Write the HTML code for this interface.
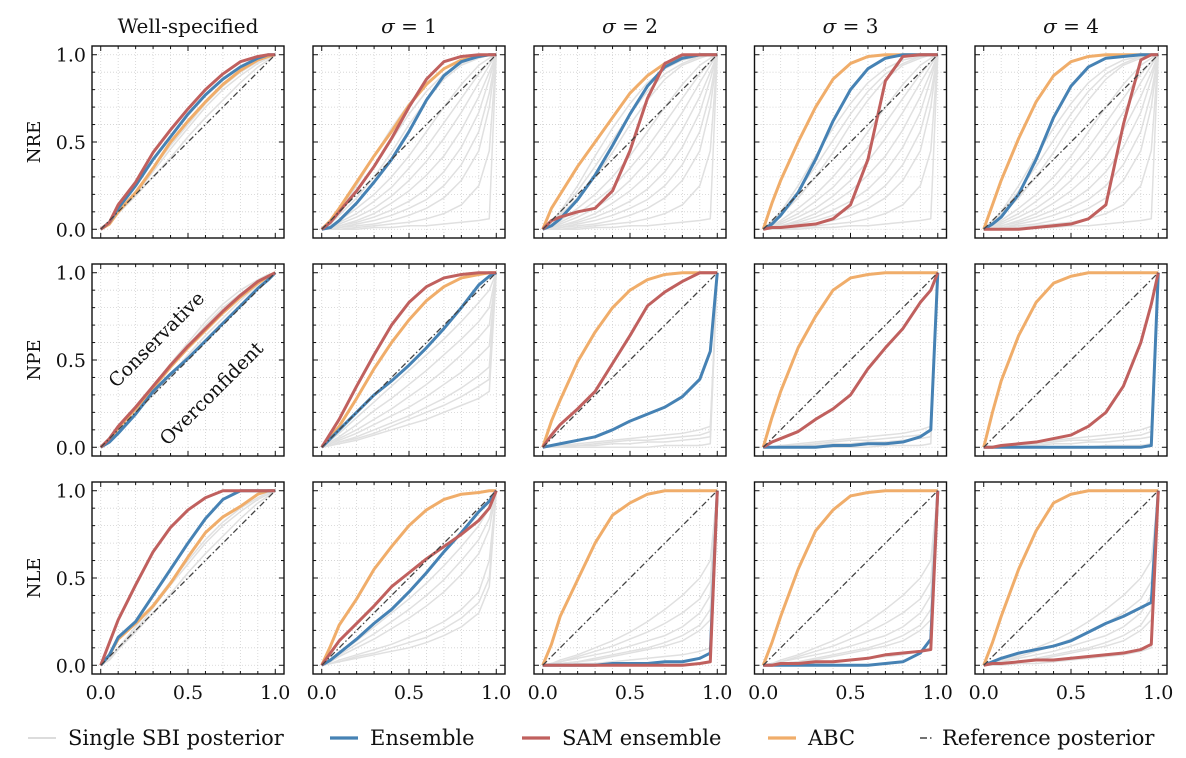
<!DOCTYPE html>
<html><head><meta charset="utf-8"><style>
html,body{margin:0;padding:0;background:#fff;}
svg{display:block;font-family:"DejaVu Serif","Liberation Serif",serif;}
</style></head><body>
<svg id="fig" width="1186" height="758" viewBox="0 0 1186 758" xmlns="http://www.w3.org/2000/svg"></svg>
<script>
const xGrid=[0,0.05,0.1,0.2,0.3,0.4,0.5,0.6,0.7,0.8,0.9,0.96,1];
const rowLabels=["NRE","NPE","NLE"];
const colTitles=["Well-specified","σ = 1","σ = 2","σ = 3","σ = 4"];
const tickLabels=["0.0","0.5","1.0"];
const tickValues=[0,0.5,1];
const ensData=[
[[0,0.04,0.12,0.25,0.4,0.53,0.66,0.77,0.86,0.93,0.98,1,1],
 [0,0.01,0.05,0.15,0.27,0.4,0.56,0.74,0.88,0.96,0.99,1,1],
 [0,0.02,0.06,0.17,0.31,0.48,0.66,0.82,0.93,0.98,1,1,1],
 [0,0.03,0.08,0.21,0.4,0.62,0.8,0.92,0.98,1,1,1,1],
 [0,0.03,0.07,0.2,0.4,0.64,0.82,0.93,0.98,0.99,1,1,1]],
[[0,0.03,0.08,0.19,0.32,0.42,0.51,0.61,0.71,0.81,0.91,0.96,1],
 [0,0.05,0.1,0.2,0.3,0.38,0.47,0.57,0.68,0.8,0.93,0.98,1],
 [0,0.01,0.02,0.04,0.06,0.1,0.15,0.19,0.23,0.29,0.39,0.55,1],
 [0,0,0,0,0,0.01,0.01,0.02,0.02,0.03,0.06,0.1,1],
 [0,0,0,0,0,0,0,0,0,0,0,0.01,1]],
[[0,0.06,0.16,0.25,0.4,0.55,0.7,0.84,0.95,1,1,1,1],
 [0,0.03,0.07,0.15,0.24,0.32,0.42,0.53,0.65,0.76,0.88,0.94,1],
 [0,0,0,0,0,0.01,0.01,0.01,0.02,0.02,0.04,0.07,1],
 [0,0,0,0,0,0,0,0,0.01,0.02,0.07,0.15,1],
 [0,0.02,0.04,0.07,0.09,0.11,0.14,0.19,0.24,0.28,0.33,0.36,1]]
];
const samData=[
[[0,0.04,0.14,0.27,0.44,0.57,0.69,0.8,0.89,0.96,0.99,1,1],
 [0,0.04,0.1,0.22,0.36,0.52,0.7,0.86,0.96,0.99,1,1,1],
 [0,0.05,0.07,0.1,0.12,0.22,0.45,0.75,0.95,1,1,1,1],
 [0,0.01,0.01,0.02,0.03,0.06,0.14,0.4,0.85,0.99,1,1,1],
 [0,0,0,0,0.01,0.02,0.03,0.06,0.14,0.6,0.97,1,1]],
[[0,0.05,0.12,0.23,0.35,0.47,0.58,0.68,0.78,0.87,0.95,0.98,1],
 [0,0.08,0.16,0.35,0.53,0.7,0.83,0.92,0.97,0.99,1,1,1],
 [0,0.07,0.13,0.22,0.32,0.48,0.64,0.81,0.89,0.95,1,1,1],
 [0,0.03,0.05,0.09,0.16,0.22,0.3,0.45,0.57,0.68,0.83,0.9,1],
 [0,0,0.01,0.02,0.03,0.05,0.07,0.12,0.2,0.35,0.6,0.82,1]],
[[0,0.13,0.26,0.46,0.65,0.79,0.89,0.96,1,1,1,1,1],
 [0,0.07,0.14,0.24,0.34,0.45,0.53,0.61,0.68,0.75,0.83,0.9,1],
 [0,0,0,0,0,0,0,0,0,0,0.01,0.02,1],
 [0,0,0.01,0.01,0.02,0.02,0.03,0.04,0.06,0.07,0.08,0.09,1],
 [0,0.01,0.01,0.02,0.03,0.03,0.04,0.05,0.06,0.07,0.09,0.12,1]]
];
const abcData=[
[[0,0.03,0.1,0.21,0.35,0.5,0.62,0.73,0.83,0.91,0.97,0.99,1],
 [0,0.05,0.12,0.27,0.42,0.56,0.71,0.83,0.92,0.97,0.99,1,1],
 [0,0.12,0.2,0.36,0.5,0.64,0.78,0.88,0.95,0.98,1,1,1],
 [0,0.15,0.28,0.5,0.7,0.86,0.95,0.99,1,1,1,1,1],
 [0,0.14,0.28,0.52,0.73,0.88,0.96,0.99,1,1,1,1,1]],
[[0,0.04,0.11,0.22,0.34,0.46,0.57,0.67,0.77,0.86,0.94,0.98,1],
 [0,0.06,0.12,0.28,0.45,0.6,0.73,0.84,0.92,0.97,0.99,1,1],
 [0,0.15,0.27,0.49,0.66,0.8,0.9,0.96,0.99,1,1,1,1],
 [0,0.17,0.32,0.57,0.75,0.9,0.97,0.99,1,1,1,1,1],
 [0,0.2,0.38,0.64,0.83,0.94,0.98,1,1,1,1,1,1]],
[[0,0.06,0.15,0.24,0.34,0.47,0.62,0.76,0.85,0.91,0.98,1,1],
 [0,0.11,0.23,0.38,0.55,0.68,0.8,0.89,0.95,0.98,0.99,1,1],
 [0,0.12,0.28,0.49,0.7,0.86,0.93,0.98,1,1,1,1,1],
 [0,0.13,0.28,0.55,0.77,0.89,0.97,0.99,1,1,1,1,1],
 [0,0.13,0.28,0.55,0.77,0.93,0.98,1,1,1,1,1,1]]
];
const greyWell=[[0,0.03,0.09,0.2,0.33,0.46,0.58,0.7,0.8,0.88,0.95,0.98,1],[0,0.03,0.09,0.19,0.3,0.41,0.53,0.64,0.74,0.84,0.93,0.97,1],[0,0.04,0.1,0.22,0.35,0.48,0.6,0.72,0.82,0.9,0.96,0.99,1]];
const greyNRE=[[0,0.05,0.1,0.25,0.42,0.58,0.72,0.84,0.92,0.97,0.99,1,1],[0,0.04,0.09,0.22,0.36,0.51,0.66,0.79,0.89,0.95,0.99,1,1],[0,0.03,0.08,0.18,0.3,0.44,0.6,0.74,0.86,0.94,0.98,1,1],[0,0.02,0.05,0.12,0.2,0.3,0.42,0.56,0.7,0.83,0.94,0.98,1],[0,0.01,0.04,0.09,0.16,0.24,0.35,0.47,0.61,0.75,0.89,0.96,1],[0,0.01,0.03,0.07,0.12,0.19,0.28,0.39,0.52,0.67,0.84,0.94,1],[0,0.01,0.02,0.05,0.09,0.15,0.22,0.31,0.42,0.57,0.76,0.9,1],[0,0.01,0.02,0.04,0.07,0.11,0.16,0.23,0.33,0.47,0.67,0.86,1],[0,0,0.01,0.03,0.05,0.08,0.12,0.17,0.25,0.37,0.56,0.78,1],[0,0,0.01,0.02,0.03,0.05,0.08,0.12,0.18,0.28,0.45,0.7,1],[0,0,0,0.01,0.02,0.03,0.04,0.06,0.09,0.14,0.25,0.45,1],[0,0,0,0,0.01,0.01,0.02,0.02,0.03,0.04,0.05,0.06,1]];
const greyNPE1=[[0,0.04,0.08,0.17,0.26,0.35,0.44,0.53,0.62,0.72,0.83,0.9,1],[0,0.03,0.06,0.13,0.21,0.28,0.36,0.44,0.53,0.62,0.72,0.8,1],[0,0.02,0.05,0.1,0.16,0.22,0.29,0.36,0.44,0.53,0.63,0.7,1],[0,0.02,0.04,0.08,0.13,0.18,0.23,0.29,0.36,0.43,0.52,0.58,1],[0,0.01,0.03,0.06,0.1,0.14,0.18,0.23,0.28,0.34,0.41,0.46,1],[0,0.01,0.03,0.05,0.08,0.12,0.16,0.2,0.24,0.29,0.35,0.39,1],[0,0.01,0.02,0.04,0.07,0.1,0.13,0.16,0.2,0.24,0.28,0.32,1]];
const greyNPEhi=[[0,0,0.01,0.02,0.03,0.04,0.05,0.06,0.07,0.08,0.1,0.12,1],[0,0,0.01,0.01,0.02,0.03,0.04,0.04,0.05,0.06,0.07,0.09,1],[0,0,0,0.01,0.01,0.02,0.02,0.03,0.03,0.04,0.05,0.06,1],[0,0,0,0,0,0,0,0,0.01,0.01,0.01,0.02,1]];
const greyNLE1=[[0,0.03,0.07,0.14,0.22,0.3,0.38,0.47,0.57,0.68,0.8,0.9,1],[0,0.02,0.06,0.12,0.18,0.25,0.32,0.4,0.49,0.6,0.72,0.84,1],[0,0.02,0.05,0.1,0.15,0.21,0.27,0.34,0.42,0.52,0.64,0.78,1],[0,0.01,0.03,0.06,0.09,0.12,0.16,0.2,0.25,0.32,0.42,0.6,1],[0,0.01,0.02,0.05,0.07,0.1,0.13,0.16,0.21,0.27,0.36,0.5,1],[0,0.01,0.02,0.04,0.06,0.08,0.1,0.13,0.17,0.22,0.3,0.45,1]];
const greyNLEhi=[[0,0.01,0.03,0.06,0.1,0.14,0.19,0.25,0.32,0.4,0.5,0.6,1],[0,0.01,0.02,0.05,0.08,0.11,0.15,0.19,0.24,0.3,0.38,0.48,1],[0,0.01,0.02,0.04,0.06,0.08,0.11,0.14,0.17,0.22,0.3,0.4,1],[0,0,0.01,0.02,0.04,0.06,0.08,0.1,0.13,0.17,0.23,0.32,1],[0,0.01,0.01,0.02,0.03,0.05,0.07,0.09,0.11,0.14,0.2,0.26,1],[0,0,0,0.01,0.01,0.02,0.03,0.04,0.05,0.06,0.08,0.1,1]];
const greyData=[
[greyWell,greyNRE,greyNRE,greyNRE,greyNRE],
[greyWell,greyNPE1,greyNPEhi,greyNPEhi,greyNPEhi],
[greyWell,greyNLE1,greyNLEhi,greyNLEhi,greyNLEhi]
];

const NS="http://www.w3.org/2000/svg";
const svg=document.getElementById('fig');
function mk(tag,attrs,parent){const e=document.createElementNS(NS,tag);for(const k in attrs)e.setAttribute(k,attrs[k]);(parent||svg).appendChild(e);return e;}
const colX=[92,313,534,754.5,975];
const rowY=[46,264,482];
const W=192,H=192;
const COLORS={ens:"#4682b4",sam:"#c0605e",abc:"#f0ad6a",grey:"#e0e0e0",ref:"#444"};

for(let r=0;r<3;r++){
  for(let c=0;c<5;c++){
    const x0=colX[c],y0=rowY[r];
    const sx=v=>x0+(v+0.05)/1.1*W;
    const sy=v=>y0+H-(v+0.05)/1.1*H;
    const g=mk('g',{});
    
    
    for(let i=0;i<=10;i++){
      const v=i/10;
      mk('line',{x1:sx(v),x2:sx(v),y1:y0,y2:y0+H,stroke:'#d0d0d0','stroke-width':0.8,'stroke-dasharray':'1 2'},g);
      mk('line',{y1:sy(v),y2:sy(v),x1:x0,x2:x0+W,stroke:'#d0d0d0','stroke-width':0.8,'stroke-dasharray':'1 2'},g);
    }
    const line=(ys,color,w,name)=>{
      const p=mk('polyline',{points:xGrid.map((x,i)=>sx(x)+','+sy(ys[i])).join(' '),fill:'none',stroke:color,'stroke-width':w,'stroke-linejoin':'round'},g);
      
      
    };
    greyData[r][c].forEach(ys=>line(ys,COLORS.grey,1.5,'single-sbi-curve'));
    line(abcData[r][c],COLORS.abc,3,'abc-curve');
    line(ensData[r][c],COLORS.ens,3,'ensemble-curve');
    line(samData[r][c],COLORS.sam,3,'sam-ensemble-curve');
    const ref=mk('line',{x1:sx(0),y1:sy(0),x2:sx(1),y2:sy(1),stroke:COLORS.ref,'stroke-width':1.3,'stroke-dasharray':'6 2.5 1.5 2.5'},g);
    
    
    mk('rect',{x:x0,y:y0,width:W,height:H,fill:'none',stroke:'#111','stroke-width':1.4},g);
    for(let i=0;i<=10;i++){
      const v=i/10,L=(i%5===0)?5:3;
      mk('line',{x1:sx(v),x2:sx(v),y1:y0+H,y2:y0+H-L,stroke:'#111','stroke-width':1},g);
      mk('line',{x1:sx(v),x2:sx(v),y1:y0,y2:y0+L,stroke:'#111','stroke-width':1},g);
      mk('line',{y1:sy(v),y2:sy(v),x1:x0,x2:x0+L,stroke:'#111','stroke-width':1},g);
      mk('line',{y1:sy(v),y2:sy(v),x1:x0+W,x2:x0+W-L,stroke:'#111','stroke-width':1},g);
    }
    if(c===0){
      tickValues.forEach((v,i)=>{
        const t=mk('text',{x:x0-6,y:sy(v)+7,'text-anchor':'end','font-size':19,fill:'#111'},g);
        t.textContent=tickLabels[i];
        
        
      });
      const rl=mk('text',{x:40,y:y0+H/2,'text-anchor':'middle','font-size':18,fill:'#111',transform:`rotate(-90 40 ${y0+H/2})`},g);
      rl.textContent=rowLabels[r];
      
      
    }
    if(r===2){
      tickValues.forEach((v,i)=>{
        const t=mk('text',{x:sx(v),y:y0+H+25,'text-anchor':'middle','font-size':19,fill:'#111'},g);
        t.textContent=tickLabels[i];
        
        
      });
    }
    if(r===0){
      const t=mk('text',{x:x0+W/2,y:33,'text-anchor':'middle','font-size':c===0?20:20,fill:'#111'},g);
      if(c===0){t.textContent=colTitles[c];}
      else{
        const s=mk('tspan',{'font-style':'italic'},t);s.textContent='σ';
        const n=mk('tspan',{},t);n.textContent=colTitles[c].slice(1);
      }
      
      
    }
    if(r===1&&c===0){
      const a=mk('text',{x:161,y:344,'text-anchor':'middle','font-size':19,fill:'#111',transform:'rotate(-45 161 344)'},g);
      a.textContent='Conservative';
      
      
      const b=mk('text',{x:216,y:398,'text-anchor':'middle','font-size':19,fill:'#111',transform:'rotate(-45 216 398)'},g);
      b.textContent='Overconfident';
      
      
    }
  }
}
const legendLabels=["Single SBI posterior","Ensemble","SAM ensemble","ABC","Reference posterior"];
const legendColors=[COLORS.grey,COLORS.ens,COLORS.sam,COLORS.abc,COLORS.ref];
const legendX=[28,330,522,768,920];
const lg=mk('g',{});


legendLabels.forEach((lab,i)=>{
  const e=mk('g',{},lg);
  
  
  const isRef=i===4;
  mk('line',{x1:legendX[i],x2:legendX[i]+(isRef?14:28),y1:738,y2:738,stroke:i===0?'#d0d0d0':legendColors[i],'stroke-width':(i===0||isRef)?1.5:3.2,'stroke-dasharray':isRef?'7 3 1.5 3':'none'},e);
  const t=mk('text',{x:legendX[i]+(isRef?22:40),y:745,'font-size':21,fill:'#111'},e);
  t.textContent=lab;
});
</script>
</body></html>
